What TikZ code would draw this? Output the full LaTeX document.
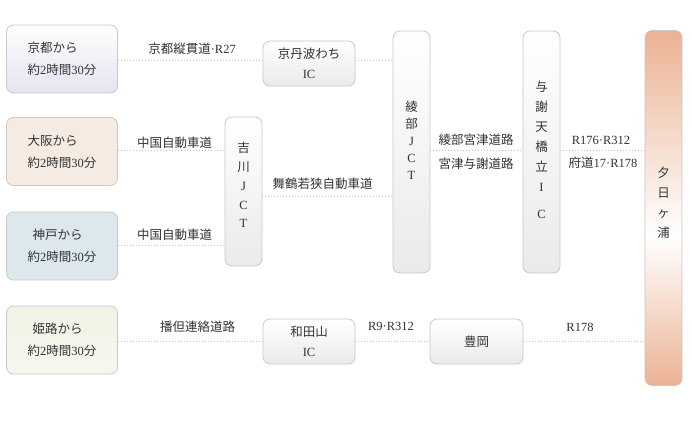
\documentclass[tikz,border=0pt]{standalone}
\usepackage{fontspec}
\setmainfont{Liberation Serif}
\newfontfamily\jpfont{Noto Sans CJK JP}
\newcommand\jj[1]{{\jpfont #1}}
\definecolor{bordergray}{HTML}{C9C9C9}
\definecolor{textgray}{HTML}{333333}
\definecolor{dotgray}{HTML}{C4C4C4}
\definecolor{boxgray}{HTML}{EAEAEA}
\definecolor{kyotoc}{HTML}{E4E3F0}
\definecolor{osakac}{HTML}{F5EBE3}
\definecolor{osakam}{HTML}{FCF9F6}
\definecolor{kobec}{HTML}{DCE8EC}
\definecolor{himejic}{HTML}{F1F1E4}
\definecolor{himejib}{HTML}{F7F7EF}
\definecolor{yuhic}{HTML}{EBB293}
\pgfdeclareverticalshading{yuhishade}{100bp}{color(0bp)=(yuhic); color(25bp)=(yuhic); color(46bp)=(white); color(75bp)=(yuhic); color(100bp)=(yuhic)}
\begin{document}
\begin{tikzpicture}[x=1pt,y=-1pt,
  box/.style={draw=bordergray, line width=0.8pt, rounded corners=7pt, inner sep=0pt,
    align=center, text=textgray, font=\fontsize{12.5}{20}\selectfont},
  graybox/.style={box, top color=white, bottom color=boxgray},
  startbox/.style={box, minimum width=111pt, minimum height=68pt, align=left,
    font=\fontsize{12.5}{22}\selectfont},
  hbox/.style={graybox, minimum width=92pt, minimum height=45pt},
  vbox/.style={graybox, minimum width=37pt},
  vtext/.style={inner sep=0pt, align=center, text=textgray},
  lbl/.style={inner sep=0pt, text=textgray, font=\fontsize{12.5}{15}\selectfont},
  dotline/.style={draw=dotgray, line width=1pt, dash pattern=on 1pt off 2pt}]
\useasboundingbox[fill=white] (0,0) rectangle (692,430);

% start boxes
\node[startbox, top color=white, bottom color=kyotoc] (kyoto) at (62,59)
  {\jj{京都から}\\\jj{約}2\jj{時間}30\jj{分}};
\node[startbox, top color=osakac, middle color=osakam, bottom color=osakac] (osaka) at (62,151.5)
  {\jj{大阪から}\\\jj{約}2\jj{時間}30\jj{分}};
\node[startbox, top color=kobec, middle color=white, bottom color=kobec] (kobe) at (62,246)
  {\hspace{5pt}\jj{神戸から}\\\jj{約}2\jj{時間}30\jj{分}};
\node[startbox, top color=himejic, bottom color=himejib] (himeji) at (62,340)
  {\hspace{5pt}\jj{姫路から}\\\jj{約}2\jj{時間}30\jj{分}};

% intermediate boxes
\node[hbox] (kyotamba) at (309,63.5) {\jj{京丹波わち}\\IC};
\node[hbox] (wadayama) at (309,341.5) {\jj{和田山}\\IC};
\node[hbox, minimum width=93pt] (toyooka) at (476.5,341.5) {\jj{豊岡}};

\node[vbox, minimum height=149pt] (yoshikawa) at (243.5,191.5) {};
\node[vbox, minimum height=242pt] (ayabe) at (411.5,152) {};
\node[vbox, minimum height=242pt] (yosa) at (541.5,152) {};
\node[box, minimum width=37pt, minimum height=355pt, shading=yuhishade] (yuhi) at (663.5,208) {};

\node[vtext, font=\fontsize{12.5}{18.75}\selectfont] (yoshikawa-t) at (243.5,185)
  {\jj{吉}\\\jj{川}\\J\\C\\T};
\node[vtext, font=\fontsize{12.5}{17}\selectfont] (ayabe-t) at (411.5,140)
  {\jj{綾}\\\jj{部}\\J\\C\\T};
\node[vtext, font=\fontsize{12.5}{20}\selectfont] (yosa-t) at (541.5,150)
  {\jj{与}\\\jj{謝}\\\jj{天}\\\jj{橋}\\\jj{立}\\I\\[7pt]C};
\node[vtext, font=\fontsize{12.5}{20}\selectfont] (yuhi-t) at (663.5,202.5)
  {\jj{夕}\\\jj{日}\\\jj{ヶ}\\\jj{浦}};

% connectors
\draw[dotline] (kyoto.east |- 0,60.5) -- (kyotamba.west |- 0,60.5);
\draw[dotline] (kyotamba.east |- 0,60.5) -- (ayabe.west |- 0,60.5);
\draw[dotline] (osaka.east |- 0,150.5) -- (yoshikawa.west |- 0,150.5);
\draw[dotline] (kobe.east |- 0,245) -- (yoshikawa.west |- 0,245);
\draw[dotline] (yoshikawa.east |- 0,196.5) -- (ayabe.west |- 0,196.5);
\draw[dotline] (ayabe.east |- 0,150.5) -- (yosa.west |- 0,150.5);
\draw[dotline] (yosa.east |- 0,150.5) -- (yuhi.west |- 0,150.5);
\draw[dotline] (himeji.east |- 0,341) -- (wadayama.west |- 0,341);
\draw[dotline] (wadayama.east |- 0,341) -- (toyooka.west |- 0,341);
\draw[dotline] (toyooka.east |- 0,341) -- (yuhi.west |- 0,341);

% labels
\node[lbl] (l-kyoto) at (192,49) {\jj{京都縦貫道}·R27};
\node[lbl] (l-osaka) at (174.5,142.5) {\jj{中国自動車道}};
\node[lbl] (l-kobe) at (174.5,235) {\jj{中国自動車道}};
\node[lbl] (l-maizuru) at (322.5,183.5) {\jj{舞鶴若狭自動車道}};
\node[lbl] (l-ayabe1) at (476,139.5) {\jj{綾部宮津道路}};
\node[lbl] (l-ayabe2) at (476,164) {\jj{宮津与謝道路}};
\node[lbl] (l-yosa1) at (601,140.5) {R176·R312};
\node[lbl] (l-yosa2) at (603,163) {\jj{府道}17·R178};
\node[lbl] (l-himeji) at (197.5,326.5) {\jj{播但連絡道路}};
\node[lbl] (l-wada) at (391,326.5) {R9·R312};
\node[lbl] (l-toyo) at (580,327.5) {R178};
\end{tikzpicture}
\end{document}
